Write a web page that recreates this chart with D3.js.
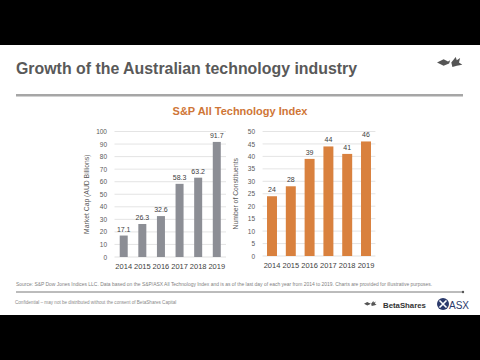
<!DOCTYPE html>
<html>
<head>
<meta charset="utf-8">
<script src="https://cdn.jsdelivr.net/npm/d3@7"></script>
<style>
html,body{margin:0;padding:0;background:#000;}
svg{display:block;font-family:"Liberation Sans",Arial,sans-serif;}
</style>
</head>
<body>
<svg id="c" width="480" height="360"></svg>
<script>
const years = ["2014","2015","2016","2017","2018","2019"];
const marketCap = [17.1, 26.3, 32.6, 58.3, 63.2, 91.7];
const marketCapLabels = ["17.1","26.3","32.6","58.3","63.2","91.7"];
const constituents = [24, 28, 39, 44, 41, 46];
const leftTicks = [0,10,20,30,40,50,60,70,80,90,100];
const rightTicks = [0,5,10,15,20,25,30,35,40,45,50];

const svg = d3.select("#c");
svg.append("rect").attr("x",0).attr("y",0).attr("width",480).attr("height",360).attr("fill","#000");
svg.append("rect").attr("x",0).attr("y",45).attr("width",480).attr("height",270).attr("fill","#fff");

// header
svg.append("text").attr("x",16).attr("y",74).attr("font-size",15.9).attr("font-weight","bold")
  .attr("fill","#595959").text("Growth of the Australian technology industry");
svg.append("rect").attr("x",16).attr("y",94).attr("width",447).attr("height",2.5).attr("fill","#a6a6a6");

function birds(g, s){
  g.append("path").attr("d","M0,5 L6,2 L10,4 L12,3 L11,6 L6,8 Z").attr("fill","#555")
   .attr("transform",`scale(${s})`);
  g.append("path").attr("d","M13,5 L17,0 L18,3 L21,1 L20,5 L23,7 L18,8 L14,9 Z").attr("fill","#555")
   .attr("transform",`scale(${s})`);
}
birds(svg.append("g").attr("transform","translate(437,57)"), 1.1);

svg.append("text").attr("x",240).attr("y",115).attr("text-anchor","middle").attr("font-size",11)
  .attr("font-weight","bold").attr("fill","#cf7637").text("S&P All Technology Index");

function drawChart(opts){
  const g = svg.append("g");
  const x = d3.scaleBand().domain(years).range(opts.xr).paddingInner(opts.pi).paddingOuter(opts.po);
  const y = d3.scaleLinear().domain([0, opts.max]).range(opts.yr);
  g.selectAll(".grid").data(opts.ticks.filter(t=>t>0)).join("line")
    .attr("x1",opts.xr[0]).attr("x2",opts.xr[1])
    .attr("y1",d=>y(d)).attr("y2",d=>y(d)).attr("stroke","#d9d9d9").attr("stroke-width",0.7);
  g.append("line").attr("x1",opts.xr[0]).attr("x2",opts.xr[1]).attr("y1",y(0)).attr("y2",y(0))
    .attr("stroke","#d9d9d9").attr("stroke-width",0.8);
  const ya = g.append("g").attr("transform",`translate(${opts.labelX},0)`)
    .call(d3.axisLeft(y).tickValues(opts.ticks).tickSize(0).tickPadding(0));
  ya.select(".domain").remove();
  ya.selectAll("text").attr("font-size",6.5).attr("fill","#595959")
    .attr("font-family","'Liberation Sans',Arial,sans-serif");
  const xa = g.append("g").attr("transform",`translate(0,${y(0)+4})`)
    .call(d3.axisBottom(x).tickSize(0).tickPadding(3));
  xa.select(".domain").remove();
  xa.selectAll("text").attr("font-size",7.5).attr("fill","#404040")
    .attr("font-family","'Liberation Sans',Arial,sans-serif");
  g.selectAll(".bar").data(opts.values).join("rect")
    .attr("x",(d,i)=>x(years[i])).attr("width",x.bandwidth())
    .attr("y",d=>y(d)).attr("height",d=>y(0)-y(d)).attr("fill",opts.color);
  g.selectAll(".vl").data(opts.values).join("text")
    .attr("x",(d,i)=>x(years[i])+x.bandwidth()/2).attr("y",d=>y(d)-4)
    .attr("text-anchor","middle").attr("font-size",7).attr("fill","#404040")
    .text((d,i)=>opts.labels[i]);
  g.append("text").attr("transform",`translate(${opts.titleX},${(opts.yr[0]+opts.yr[1])/2}) rotate(-90)`)
    .attr("text-anchor","middle").attr("font-size",6.8).attr("fill","#595959").text(opts.title);
}

drawChart({xr:[114.5,226], pi:0.57, po:0.28, yr:[257,131.5], max:100, ticks:leftTicks,
  labelX:107, values:marketCap, labels:marketCapLabels, color:"#8c8e95",
  title:"Market Cap (AUD Billions)", titleX:89});
drawChart({xr:[262.6,375.4], pi:0.47, po:0.235, yr:[256,131.5], max:50, ticks:rightTicks,
  labelX:255, values:constituents, labels:constituents.map(String), color:"#d9813e",
  title:"Number of  Constituents", titleX:238});

// footer
svg.append("text").attr("x",16).attr("y",286).attr("font-size",4.95).attr("fill","#7f7f7f")
  .text("Source: S&P Dow Jones Indices LLC. Data based on the S&P/ASX All Technology Index and is as of the last day of each year from 2014 to 2019. Charts are provided for illustrative purposes.");
svg.append("line").attr("x1",16).attr("x2",463).attr("y1",292).attr("y2",292).attr("stroke","#555").attr("stroke-width",0.8);
svg.append("circle").attr("cx",463).attr("cy",292).attr("r",1.2).attr("fill","#555");
svg.append("text").attr("x",15).attr("y",304).attr("font-size",4.6).attr("fill","#8a8a8a")
  .text("Confidential – may not be distributed without the consent of BetaShares Capital");
birds(svg.append("g").attr("transform","translate(364,301)"), 0.55);
svg.append("text").attr("x",383).attr("y",308).attr("font-size",7.8).attr("font-weight","bold")
  .attr("fill","#333").text("BetaShares");
svg.append("circle").attr("cx",443).attr("cy",304).attr("r",6).attr("fill","#2b3a6b");
svg.append("path").attr("d","M439.5,300.5 L446.5,307.5 M446.5,300.5 L439.5,307.5").attr("stroke","#fff").attr("stroke-width",1.6);
svg.append("text").attr("x",449).attr("y",308.5).attr("font-size",10).attr("fill","#2b3a6b").text("ASX");
</script>
</body>
</html>
